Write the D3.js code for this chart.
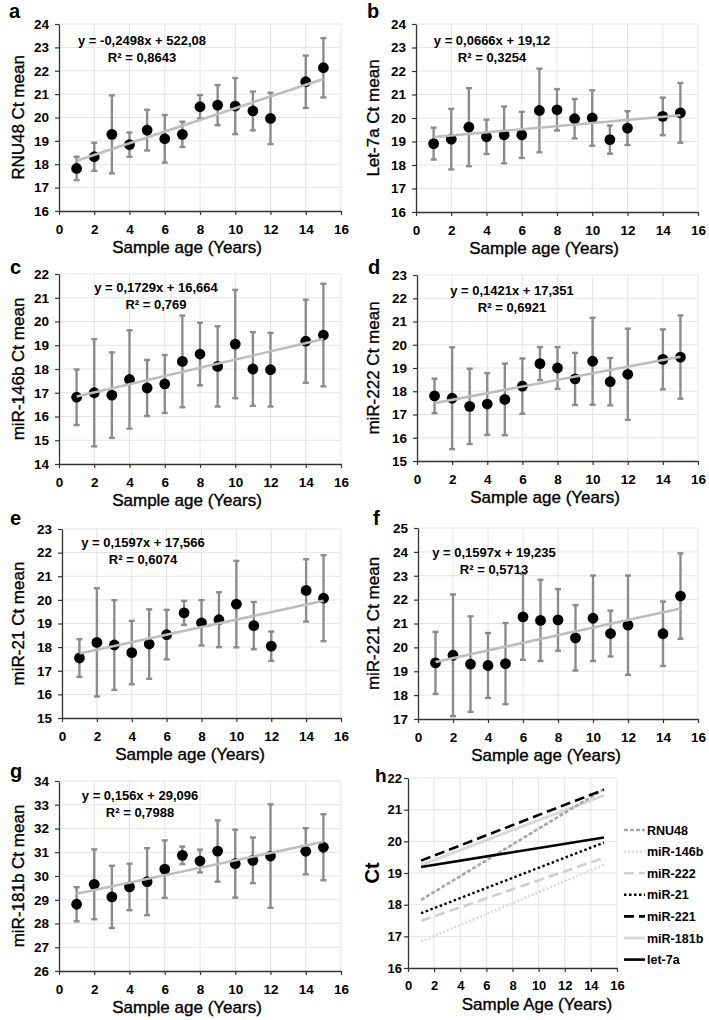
<!DOCTYPE html>
<html><head><meta charset="utf-8">
<script src="https://cdn.jsdelivr.net/npm/d3@7"></script>
<style>body{margin:0;background:#fff}svg{display:block}text{font-family:"Liberation Sans",Arial,sans-serif;fill:#000}</style>
</head><body><svg id="chart" width="709" height="1020"></svg>
<script>
// ---------- DATA ----------
const ages = [1,2,3,4,5,6,7,8,9,10,11,12,14,15];
const xTickValues = [0,2,4,6,8,10,12,14,16];
const trendAges = [1,15];

const rnu48Mean = [17.82,18.32,19.28,18.84,19.46,19.09,19.28,20.46,20.53,20.49,20.28,19.96,21.53,22.13];
const rnu48Sd   = [0.50,0.60,1.67,0.52,0.87,1.02,0.54,0.50,0.86,1.20,0.83,1.10,1.12,1.27];
const let7aMean = [18.91,19.10,19.61,19.20,19.28,19.28,20.32,20.35,19.97,20.00,19.08,19.57,20.07,20.22];
const let7aSd   = [0.68,1.29,1.66,0.73,1.21,0.98,1.78,0.88,0.84,1.18,0.60,0.72,0.80,1.27];
const mir146bMean = [16.81,17.00,16.90,17.56,17.20,17.37,18.32,18.63,18.11,19.05,18.00,17.97,19.17,19.43];
const mir146bSd   = [1.17,2.26,1.80,2.07,1.18,1.22,1.93,1.32,1.69,2.28,1.55,1.55,1.75,2.16];
const mir222Mean = [17.80,17.70,17.35,17.45,17.65,18.22,19.19,19.00,18.53,19.29,18.41,18.73,19.37,19.47];
const mir222Sd   = [0.74,2.19,1.62,1.33,1.54,1.19,0.71,0.90,1.12,1.87,1.02,1.96,1.29,1.79];
const mir21Mean = [17.54,18.20,18.09,17.77,18.13,18.53,19.45,19.03,19.16,19.82,18.91,18.04,20.40,20.07];
const mir21Sd   = [0.80,2.29,1.90,1.34,1.47,1.05,0.51,0.96,1.16,1.83,1.00,0.62,1.32,1.82];
const mir221Mean = [19.35,19.67,19.30,19.24,19.32,21.28,21.13,21.15,20.40,21.22,20.58,20.93,20.57,22.15];
const mir221Sd   = [1.30,2.55,2.00,1.36,1.70,1.80,1.70,1.29,1.37,1.79,0.96,2.08,1.35,1.79];
const mir181bMean = [28.81,29.65,29.12,29.54,29.76,30.29,30.87,30.63,31.05,30.52,30.66,30.84,31.04,31.21];
const mir181bSd   = [0.72,1.47,1.31,0.98,1.41,1.21,0.37,0.48,1.29,1.43,0.96,2.18,0.97,1.39];

// trend line values at age 1 and age 15
const rnu48Trend = [18.15,21.65];
const let7aTrend = [19.19,20.12];
const mir146bTrend = [16.84,19.26];
const mir222Trend = [17.49,19.48];
const mir21Trend = [17.73,19.96];
const mir221Trend = [19.39,21.63];
const mir181bTrend = [29.25,31.44];
const mir181bTrendH = [19.25,21.45];

const panelLetters = ["a","b","c","d","e","f","g","h"];
const yTitles = ["RNU48 Ct mean","Let-7a Ct mean","miR-146b Ct mean","miR-222 Ct mean","miR-21 Ct mean","miR-221 Ct mean","miR-181b Ct mean"];
const yDomains = [[16,24],[16,24],[14,22],[15,23],[15,23],[17,25],[26,34]];
const equations = ["y = -0,2498x + 522,08","y = 0,0666x + 19,12","y = 0,1729x + 16,664","y = 0,1421x + 17,351","y = 0,1597x + 17,566","y = 0,1597x + 19,235","y = 0,156x + 29,096"];
const r2Values = ["0,8643","0,3254","0,769","0,6921","0,6074","0,5713","0,7988"];
const xTitle = "Sample age (Years)";

const hNames = ["RNU48","miR-146b","miR-222","miR-21","miR-221","miR-181b","let-7a"];
const hTrends = [rnu48Trend, mir146bTrend, mir222Trend, mir21Trend, mir221Trend, mir181bTrendH, let7aTrend];
const hDomain = [16,22];
const hXTitle = "Sample Age (Years)";
const hYTitle = "Ct";

// ---------- LAYOUT ----------
const layout = [
  {L:59, R:341, T:24,  B:211, lx:9,   ly:18,  tx:18,  eqx:142, eqy:45},
  {L:416,R:698, T:24,  B:212, lx:367, ly:18,  tx:373, eqx:492, eqy:45},
  {L:59, R:341, T:274, B:464, lx:10,  ly:274, tx:18,  eqx:156, eqy:292},
  {L:417,R:698, T:275, B:461, lx:368, ly:274, tx:373, eqx:512, eqy:295},
  {L:62, R:341, T:529, B:718, lx:10,  ly:525, tx:18,  eqx:143, eqy:547},
  {L:418,R:698, T:528, B:719, lx:373, ly:525, tx:373, eqx:494, eqy:557},
  {L:59, R:341, T:781, B:971, lx:10,  ly:778, tx:18,  eqx:140, eqy:800}
];
const hLayout = {L:408, R:617, T:778, B:968, lx:375, ly:782};

const means = [rnu48Mean, let7aMean, mir146bMean, mir222Mean, mir21Mean, mir221Mean, mir181bMean];
const sds = [rnu48Sd, let7aSd, mir146bSd, mir222Sd, mir21Sd, mir221Sd, mir181bSd];
const trends = [rnu48Trend, let7aTrend, mir146bTrend, mir222Trend, mir21Trend, mir221Trend, mir181bTrend];

const svg = d3.select("#chart");
const gridColor = "#e4e4e4", axisColor = "#333";

function titleText(sel) {
  return sel.attr("font-size", 17).attr("stroke", "#000").attr("stroke-width", 0.35);
}

function drawFrame(g, x, y, L, R, T, B, yVals, yPad, tickFont) {
  g.append("g").selectAll("line").data(yVals.slice(1)).join("line")
    .attr("x1", L).attr("x2", R).attr("y1", d => y(d)).attr("y2", d => y(d))
    .attr("stroke", gridColor).attr("stroke-width", 1);
  g.append("g").selectAll("line").data(xTickValues.slice(1)).join("line")
    .attr("x1", d => x(d)).attr("x2", d => x(d)).attr("y1", T).attr("y2", B)
    .attr("stroke", gridColor).attr("stroke-width", 1);
  const ya = g.append("g").attr("transform", `translate(${L},0)`)
    .call(d3.axisLeft(y).tickValues(yVals).tickSize(4).tickSizeOuter(0).tickPadding(yPad).tickFormat(d3.format("d")));
  const xa = g.append("g").attr("transform", `translate(0,${B})`)
    .call(d3.axisBottom(x).tickValues(xTickValues).tickSize(4).tickSizeOuter(0).tickPadding(9).tickFormat(d3.format("d")));
  [ya, xa].forEach(a => {
    a.select(".domain").attr("stroke", axisColor).attr("stroke-width", 1.3);
    a.selectAll(".tick line").attr("stroke", axisColor).attr("stroke-width", 1.2);
    a.selectAll("text").attr("font-size", tickFont).attr("font-weight", "bold").attr("fill", "#000")
      .style("font-family", '"Liberation Sans",Arial,sans-serif');
  });
}

layout.forEach((p, i) => {
  const g = svg.append("g");
  const x = d3.scaleLinear().domain([0,16]).range([p.L, p.R]);
  const y = d3.scaleLinear().domain(yDomains[i]).range([p.B, p.T]);
  const yVals = d3.range(yDomains[i][0], yDomains[i][1] + 1);
  drawFrame(g, x, y, p.L, p.R, p.T, p.B, yVals, 6, 13.5);
  const pts = ages.map((a, k) => ({a, m: means[i][k], s: sds[i][k]}));
  // error bars
  const eb = g.append("g").attr("stroke", "#8c8c8c").attr("stroke-width", 2.4);
  eb.selectAll("line.v").data(pts).join("line").attr("class","v")
    .attr("x1", d => x(d.a)).attr("x2", d => x(d.a))
    .attr("y1", d => y(d.m + d.s)).attr("y2", d => y(d.m - d.s));
  eb.selectAll("line.t").data(pts).join("line").attr("class","t")
    .attr("x1", d => x(d.a) - 3).attr("x2", d => x(d.a) + 3)
    .attr("y1", d => y(d.m + d.s)).attr("y2", d => y(d.m + d.s));
  eb.selectAll("line.b").data(pts).join("line").attr("class","b")
    .attr("x1", d => x(d.a) - 3).attr("x2", d => x(d.a) + 3)
    .attr("y1", d => y(d.m - d.s)).attr("y2", d => y(d.m - d.s));
  // dots
  g.append("g").selectAll("circle").data(pts).join("circle")
    .attr("cx", d => x(d.a)).attr("cy", d => y(d.m)).attr("r", 5.4).attr("fill", "#000");
  // trend line
  g.append("path").datum(trendAges.map((a, k) => [a, trends[i][k]]))
    .attr("d", d3.line().x(d => x(d[0])).y(d => y(d[1])))
    .attr("stroke", "#bdbdbd").attr("stroke-width", 2.6).attr("fill", "none");
  // equation
  g.append("text").attr("x", p.eqx).attr("y", p.eqy).attr("text-anchor", "middle")
    .attr("font-size", 13).attr("font-weight", "bold").text(equations[i]);
  g.append("text").attr("x", p.eqx).attr("y", p.eqy + 17).attr("text-anchor", "middle")
    .attr("font-size", 13).attr("font-weight", "bold").text("R\u00B2 = " + r2Values[i]);
  // titles
  titleText(g.append("text").attr("transform", `translate(${p.tx + 6},${(p.T + p.B) / 2}) rotate(-90)`)
    .attr("text-anchor", "middle")).text(yTitles[i]);
  titleText(g.append("text").attr("x", p.L + 128).attr("y", p.B + 42).attr("text-anchor", "middle")).text(xTitle);
  g.append("text").attr("x", p.lx).attr("y", p.ly).attr("font-size", 20).attr("font-weight", "bold")
    .text(panelLetters[i]);
});

// ---------- panel h ----------
(function() {
  const p = hLayout;
  const g = svg.append("g");
  const x = d3.scaleLinear().domain([0,16]).range([p.L, p.R]);
  const y = d3.scaleLinear().domain(hDomain).range([p.B, p.T]);
  const yVals = d3.range(hDomain[0], hDomain[1] + 1);
  drawFrame(g, x, y, p.L, p.R, p.T, p.B, yVals, 2, 13);
  const styles = [
    {c:"#a6a6a6", w:2.6, dash:"4,2"},
    {c:"#dcdcdc", w:2.6, dash:"2,2"},
    {c:"#cfcfcf", w:2.6, dash:"10,5"},
    {c:"#000000", w:2.4, dash:"2.5,2.5"},
    {c:"#000000", w:2.6, dash:"10,5"},
    {c:"#d9d9d9", w:3,   dash:null},
    {c:"#000000", w:2.6, dash:null}
  ];
  const order = [5, 3, 1, 2, 0, 4, 6];
  order.forEach(k => {
    g.append("path").datum(trendAges.map((a, j) => [a, hTrends[k][j]]))
      .attr("d", d3.line().x(d => x(d[0])).y(d => y(d[1])))
      .attr("stroke", styles[k].c).attr("stroke-width", styles[k].w)
      .attr("stroke-dasharray", styles[k].dash).attr("fill", "none");
  });
  const lg = g.append("g");
  hNames.forEach((n, k) => {
    const yy = 830 + k * 21.6;
    lg.append("line").attr("x1", 624).attr("x2", 645).attr("y1", yy).attr("y2", yy)
      .attr("stroke", styles[k].c).attr("stroke-width", styles[k].w)
      .attr("stroke-dasharray", styles[k].dash);
    lg.append("text").attr("x", 647).attr("y", yy + 4.5).attr("font-size", 12.5)
      .attr("font-weight", "bold").text(n);
  });
  g.append("text").attr("transform", `translate(${379},${(p.T + p.B) / 2}) rotate(-90)`)
    .attr("text-anchor", "middle").attr("font-size", 20).attr("font-weight", "bold").text(hYTitle);
  titleText(g.append("text").attr("x", 537).attr("y", 1010).attr("text-anchor", "middle")).text(hXTitle);
  g.append("text").attr("x", p.lx).attr("y", p.ly).attr("font-size", 19).attr("font-weight", "bold")
    .text(panelLetters[7]);
})();
</script></body></html>
